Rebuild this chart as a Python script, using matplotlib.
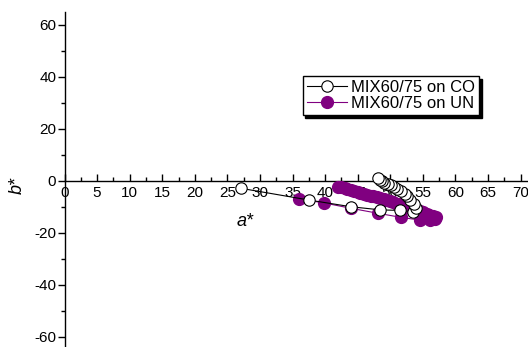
import matplotlib
matplotlib.use("Agg")
import matplotlib.pyplot as plt
from matplotlib.ticker import MultipleLocator

# ---- data ----
co_a = [27.1, 37.5, 44.0, 48.5, 51.5, 53.5, 54.0, 53.6, 53.1, 52.6, 52.2, 51.6,
        51.1, 50.6, 50.1, 49.6, 49.1, 48.7, 48.4, 48.2]
co_b = [-2.9, -7.4, -10.0, -11.2, -11.4, -12.0, -10.5, -9.0, -7.4, -6.0, -5.0, -3.8,
        -3.0, -2.3, -1.7, -1.2, -0.7, -0.2, 0.3, 0.9]

un_a = [36.0, 39.8, 44.0, 48.1, 51.7, 54.5, 56.1, 56.9, 57.0, 56.5, 56.0, 55.6,
        55.0, 54.5, 54.0, 53.4, 53.0, 52.5, 52.0, 51.4, 51.0, 50.5, 50.0, 49.4,
        49.0, 48.5, 48.0, 47.4, 47.0, 46.5, 46.0, 45.4, 45.0, 44.5, 44.0, 43.4,
        43.0, 42.5, 42.0]
un_b = [-7.0, -8.5, -10.6, -12.5, -14.1, -15.1, -15.0, -14.6, -14.0, -13.4, -13.0, -12.6,
        -12.1, -11.7, -11.2, -10.8, -10.4, -10.0, -9.6, -9.1, -8.8, -8.3, -7.9, -7.5,
        -7.2, -6.8, -6.4, -6.0, -5.7, -5.3, -5.0, -4.6, -4.3, -3.9, -3.6, -3.2,
        -2.9, -2.5, -2.2]

labels = ["MIX60/75 on CO", "MIX60/75 on UN"]
xticks = list(range(0, 75, 5))
yticks = [-60, -40, -20, 0, 20, 40, 60]

purple = "#800080"

plt.rcParams['font.family'] = ['Liberation Sans', 'DejaVu Sans']
plt.rcParams['axes.unicode_minus'] = False

fig = plt.figure(figsize=(5.28, 3.47), dpi=100)
ax = fig.add_axes([64.5 / 528, 0.0, (528 - 64.5) / 528, (347 - 12) / 347])

l_un, = ax.plot(un_a, un_b, color=purple, lw=0.8, marker='o', ms=8.5, mfc=purple,
                mec=purple, label=labels[1], zorder=3)
l_co, = ax.plot(co_a, co_b, color='black', lw=0.8, marker='o', ms=8.2, mfc='white',
                mec='black', mew=0.8, label=labels[0], zorder=4)

ax.set_xlim(0, 71.15)
ax.set_ylim(-64, 65)

ax.spines['top'].set_visible(False)
ax.spines['right'].set_visible(False)
ax.spines['bottom'].set_position(('data', 0))
ax.spines['bottom'].set_linewidth(1.0)
ax.spines['left'].set_linewidth(1.0)

ax.set_xticks(xticks)
ax.set_yticks(yticks)
ax.xaxis.set_minor_locator(MultipleLocator(2.5))
ax.yaxis.set_minor_locator(MultipleLocator(10))
ax.tick_params(axis='x', which='major', direction='in', length=5, width=1,
               labelsize=11, pad=4)
ax.tick_params(axis='x', which='minor', direction='in', length=3, width=1)
ax.tick_params(axis='y', which='major', direction='out', length=5, width=1,
               labelsize=11, pad=1)
ax.tick_params(axis='y', which='minor', direction='out', length=3, width=1)

ax.set_xlabel("a*", fontsize=13, style='italic')
ax.xaxis.set_label_coords((245 - 64.5) / (528 - 64.5), 1 - (213 - 12) / (347 - 12))
ax.set_ylabel("b*", fontsize=13, style='italic')
ax.yaxis.set_label_coords(-(64.5 - 26) / (528 - 64.5), 1 - (185 - 12) / (347 - 12))

leg = ax.legend([l_co, l_un], labels, loc='upper left',
                bbox_to_anchor=(302.7 / 528, 1 - 76 / 347),
                bbox_transform=fig.transFigure, borderaxespad=0,
                fontsize=12, frameon=True, fancybox=False,
                shadow={'color': 'black', 'alpha': 1.0},
                handlelength=2.4, handletextpad=0.25, labelspacing=0.05,
                borderpad=0.25)
leg.get_frame().set_edgecolor('black')
leg.get_frame().set_linewidth(1.0)
leg.get_frame().set_alpha(1.0)

fig.savefig("out.png", dpi=100)
